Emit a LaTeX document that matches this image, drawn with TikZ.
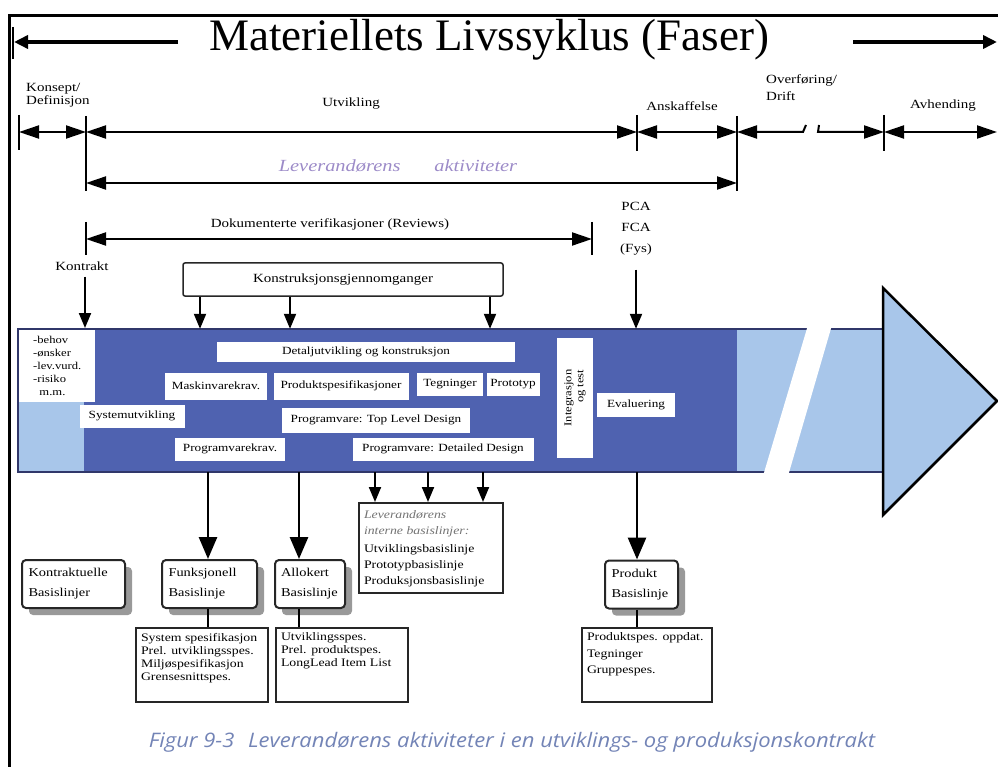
\documentclass[tikz,border=0pt]{standalone}
\usepackage{fontspec}
\setmainfont{Liberation Serif}
\newfontfamily\wdf[FakeStretch=1.2]{Liberation Serif}
\newfontfamily\capfont[FakeStretch=1.1]{Open Sans}
\usetikzlibrary{arrows.meta,shadows}
\definecolor{barblue}{HTML}{4F62B0}
\definecolor{lightblue}{HTML}{A8C6EA}
\definecolor{lavender}{HTML}{9C8BC8}
\definecolor{capblue}{HTML}{7384B6}
\definecolor{barborder}{HTML}{30376A}
\tikzset{
  titlef/.style={font=\fontsize{45}{50}\selectfont, inner sep=0pt},
  titlearr/.style={line width=3.5pt, -{Triangle[length=14pt,width=13pt]}},
  lbl/.style={font=\wdf\fontsize{12.5}{13}\selectfont, inner sep=0pt},
  dimarr/.style={line width=2pt, {Triangle[length=20pt,width=13pt]}-{Triangle[length=20pt,width=13pt]}},
  leftarr/.style={line width=2pt, {Triangle[length=20pt,width=13pt]}-},
  rightarr/.style={line width=2pt, -{Triangle[length=20pt,width=13pt]}},
  vbar/.style={line width=2.5pt},
  downarr/.style={line width=2pt, -{Triangle[length=15pt,width=12pt]}},
  bigarr/.style={line width=2.8pt, -{Triangle[length=22pt,width=18pt]}},
  inbox/.style={fill=white, inner sep=0pt, font=\wdf\fontsize{11}{12}\selectfont},
  basebox/.style={draw=black!85, line width=2pt, rounded corners=4pt, fill=white,
     drop shadow={shadow xshift=7pt, shadow yshift=-7pt, fill=black!40, opacity=1},
     inner sep=6pt, font=\wdf\fontsize{12}{20}\selectfont, align=left},
  specbox/.style={draw=black!85, line width=2pt, fill=white, inner sep=5pt,
     font=\wdf\fontsize{11.5}{13}\selectfont},
  conn/.style={line width=2pt}
}
\begin{document}
\begin{tikzpicture}[x=1pt,y=-1pt]
\useasboundingbox (0,0) rectangle (998,767);
% frame
\draw[line width=3pt] (9,767) -- (9,16) -- (998,16);

% title with arrows
\node[titlef] (title) at (489,40) {Materiellets Livssyklus (Faser)};
\coordinate (tL) at (14,42); \coordinate (tLs) at (178,42);
\coordinate (tR) at (997,42); \coordinate (tRs) at (853,42);
\draw[line width=2.5pt] (13,27) -- (13,59);
\draw[titlearr] (tLs) -- (tL);
\draw[titlearr] (tRs) -- (tR);

% phase row
\coordinate (p0) at (19,132);
\coordinate (p1) at (86,132);
\coordinate (p2) at (637,132);
\coordinate (p3) at (737,132);
\coordinate (p4) at (884,132);
\coordinate (p5) at (997,132);
\coordinate (o1) at (803,132);
\coordinate (o2) at (818,132);
\draw[dimarr] (p0) -- (p1);
\draw[dimarr] (p1) -- (p2);
\draw[dimarr] (p2) -- (p3);
\draw[leftarr] (p3) -- (o1) -- ++(3,-7);
\draw[rightarr] (o2) ++(1,-7) -- (o2) -- (p4);
\draw[dimarr] (p4) -- (p5);
\draw[vbar] (19,115) -- (19,150);
\draw[vbar] (86,116) -- (86,191);
\draw[vbar] (637,115) -- (637,151);
\draw[vbar] (737,116) -- (737,191);
\draw[vbar] (884,115) -- (884,151);

\node[lbl, align=left, anchor=west] (konsept) at (26,95) {Konsept/\\Definisjon};
\node[lbl] (utv) at (351,104) {Utvikling};
\node[lbl] (ansk) at (682,106) {Anskaffelse};
\node[lbl, align=left, anchor=west, font=\wdf\fontsize{12.5}{17}\selectfont] (overf) at (766,88) {Overføring/\\Drift};
\node[lbl] (avh) at (943,106) {Avhending};

% leverandorens aktiviteter
\node[inner sep=0pt, text=lavender, font=\wdf\fontsize{17}{18}\selectfont\itshape] (levakt) at (398,166) {Leverandørens\hspace{34pt}aktiviteter};
\coordinate (l1) at (86,183); \coordinate (l2) at (737,183);
\draw[dimarr] (l1) -- (l2);

% dokumenterte verifikasjoner
\node[lbl] (dok) at (330,224) {Dokumenterte verifikasjoner (Reviews)};
\coordinate (d1) at (86,239); \coordinate (d2) at (592,239);
\draw[dimarr] (d1) -- (d2);
\draw[vbar] (86,222) -- (86,255);
\draw[vbar] (592,222) -- (592,255);

\node[lbl, align=center, font=\wdf\fontsize{12.5}{21}\selectfont] (pca) at (636,229) {PCA\\FCA\\(Fys)};
\node[lbl] (kontrakt) at (82,266) {Kontrakt};

% konstruksjonsgjennomganger
\node[draw=black!85, line width=1.5pt, rounded corners=2pt, fill=white, minimum width=320pt, minimum height=33pt, inner sep=0pt, font=\wdf\fontsize{12.5}{13}\selectfont] (kgj) at (343,279.5) {Konstruksjonsgjennomganger};

% the bar
\node[minimum width=865pt, minimum height=143pt, inner sep=0pt] (bar) at (450.5,400.5) {};
\fill[barblue] (18,329) rectangle (737,472);
\fill[lightblue] (737,329) rectangle (883,472);
\fill[white] (18,329) rectangle (95,402);
\fill[lightblue] (18,402) rectangle (84,472);
\draw[barborder, line width=2.5pt] (18,329) rectangle (883,472);
\fill[white] (808,325) -- (832,325) -- (788,476) -- (763,476) -- cycle;
\draw[line width=2.5pt, fill=lightblue, line join=miter] (883,288) -- (997,401) -- (883,515) -- cycle;

% arrows into bar
\coordinate (k1) at (200,0); \coordinate (k2) at (290,0); \coordinate (k3) at (490,0);
\draw[downarr] (kontrakt.south -| 85,0) ++(0,6) -- (85,328);
\draw[downarr] (kgj.south -| k1) -- (bar.north -| k1);
\draw[downarr] (kgj.south -| k2) -- (bar.north -| k2);
\draw[downarr] (kgj.south -| k3) -- (bar.north -| k3);
\draw[downarr] (pca.south) ++(0,14) -- (bar.north -| pca.south);

% content of the bar
\node[inbox, anchor=north west, align=left, font=\wdf\fontsize{10.5}{13}\selectfont] (needs) at (33,336) {-behov\\-ønsker\\-lev.vurd.\\-risiko\\\ \ m.m.};
\node[inbox, minimum width=298pt, minimum height=20pt] (detalj) at (366,352) {Detaljutvikling og konstruksjon};
\node[inbox, minimum width=102pt, minimum height=27pt] (maskin) at (216,386) {Maskinvarekrav.};
\node[inbox, minimum width=135pt, minimum height=27pt] (prodspes) at (341,386) {Produktspesifikasjoner};
\node[inbox, minimum width=66pt, minimum height=23pt] (teg) at (450,384) {Tegninger};
\node[inbox, minimum width=53pt, minimum height=23pt] (proto) at (513,384) {Prototyp};
\node[inbox, minimum width=105pt, minimum height=23pt] (sysutv) at (132,416) {Systemutvikling};
\node[inbox, minimum width=188pt, minimum height=25pt] (topdes) at (376,420) {Programvare: Top Level Design};
\node[inbox, minimum width=110pt, minimum height=23pt] (progkrav) at (230,449) {Programvarekrav.};
\node[inbox, minimum width=181pt, minimum height=23pt] (detdes) at (443,449) {Programvare: Detailed Design};
\node[inbox, rotate=90, minimum width=120pt, minimum height=36pt, align=right, font=\wdf\fontsize{10.5}{12}\selectfont] (integ) at (575,398) {Integrasjon\\og test};
\node[inbox, minimum width=78pt, minimum height=24pt] (eval) at (636,405) {Evaluering};

% bottom boxes
\node[basebox, minimum width=103pt, minimum height=48pt, text width=90pt] (kontr) at (73.5,584) {Kontraktuelle\\Basislinjer};
\node[basebox, minimum width=95pt, minimum height=48pt, text width=82pt] (funk) at (209.5,584) {Funksjonell\\Basislinje};
\node[basebox, minimum width=70pt, minimum height=48pt, text width=58pt, inner sep=4pt] (allok) at (310,584) {Allokert\\Basislinje};
\node[basebox, minimum width=73pt, minimum height=48pt, text width=60pt] (prod) at (641.5,584.5) {Produkt\\Basislinje};

\node[specbox, anchor=north west] (fspec) at (135,627) {\parbox[c][64pt][t]{122pt}{System spesifikasjon\\Prel. utviklingsspes.\\Miljøspesifikasjon\\Grensesnittspes.}};
\node[specbox, anchor=north west] (aspec) at (275,627) {\parbox[c][64pt][t]{122pt}{Utviklingsspes.\\Prel. produktspes.\\LongLead Item List}};
\node[specbox, anchor=north west, font=\wdf\fontsize{11.5}{16.5}\selectfont] (pspec) at (581,627) {\parbox[c][64pt][t]{120pt}{Produktspes. oppdat.\\Tegninger\\Gruppespes.}};

\node[specbox, anchor=north west, font=\wdf\fontsize{11.5}{16}\selectfont] (lev) at (358,502) {\parbox[c][80pt][t]{134pt}{\vspace*{3pt}\color{black!55}\itshape Leverandørens\\interne basislinjer:\\[2pt]\color{black}\upshape Utviklingsbasislinje\\Prototypbasislinje\\Produksjonsbasislinje}};

\coordinate (fx) at (208,0);
\coordinate (ax) at (299,0);
\coordinate (px) at (637,0);
\coordinate (lx1) at (375,0); \coordinate (lx2) at (428,0); \coordinate (lx3) at (483,0);
\draw[bigarr] (bar.south -| fx) -- (funk.north -| fx);
\draw[bigarr] (bar.south -| ax) -- (allok.north -| ax);
\draw[bigarr] (bar.south -| px) -- (prod.north -| px);
\draw[downarr] (bar.south -| lx1) -- (lev.north -| lx1);
\draw[downarr] (bar.south -| lx2) -- (lev.north -| lx2);
\draw[downarr] (bar.south -| lx3) -- (lev.north -| lx3);
\draw[conn] (funk.south -| fx) -- (fspec.north -| fx);
\draw[conn] (allok.south -| ax) -- (aspec.north -| ax);
\draw[conn] (prod.south -| px) -- (pspec.north -| px);

% caption
\node[inner sep=0pt, text=capblue, font=\capfont\fontsize{20}{22}\selectfont\itshape] (caption) at (512,742) {Figur 9-3\hspace{8pt} Leverandørens aktiviteter i en utviklings- og produksjonskontrakt};
\end{tikzpicture}
\end{document}
